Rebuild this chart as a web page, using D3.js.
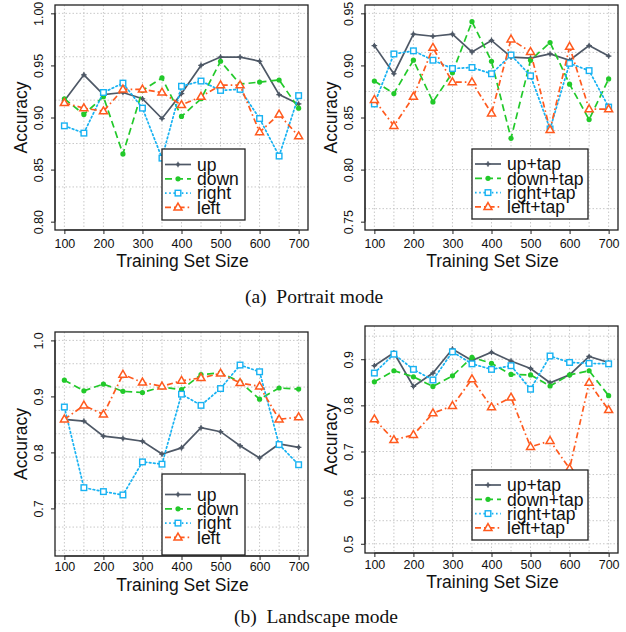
<!DOCTYPE html>
<meta charset="utf-8">
<style>
body { margin: 0; background: #fff; }
text { font-family: "Liberation Sans", Arial, sans-serif; fill: #111; }
.caption { font-family: "Liberation Serif", "Times New Roman", serif; font-size: 19.5px; white-space: pre; }
.grid line { stroke: #c8c8c8; stroke-width: 1; stroke-dasharray: 1.5,2; }
</style>
<body>
<script src="https://cdn.jsdelivr.net/npm/d3@7"></script>
<script>

var sizes = [100, 150, 200, 250, 300, 350, 400, 450, 500, 550, 600, 650, 700];

// (a) portrait mode
var portraitNames = ["up", "down", "right", "left"];
var portraitUp    = [0.916, 0.941, 0.922, 0.924, 0.918, 0.899, 0.923, 0.950, 0.958, 0.958, 0.954, 0.922, 0.913];
var portraitDown  = [0.918, 0.903, 0.920, 0.865, 0.926, 0.938, 0.901, 0.918, 0.954, 0.932, 0.934, 0.936, 0.909];
var portraitRight = [0.892, 0.885, 0.924, 0.933, 0.909, 0.861, 0.930, 0.935, 0.926, 0.927, 0.899, 0.863, 0.921];
var portraitLeft  = [0.914, 0.909, 0.906, 0.927, 0.927, 0.924, 0.912, 0.920, 0.931, 0.931, 0.886, 0.903, 0.882];

var portraitTapNames = ["up+tap", "down+tap", "right+tap", "left+tap"];
var portraitUpTap    = [0.919, 0.892, 0.930, 0.928, 0.930, 0.913, 0.924, 0.908, 0.907, 0.911, 0.905, 0.919, 0.909];
var portraitDownTap  = [0.885, 0.873, 0.905, 0.865, 0.893, 0.942, 0.904, 0.830, 0.905, 0.922, 0.882, 0.848, 0.887];
var portraitRightTap = [0.863, 0.911, 0.914, 0.905, 0.897, 0.898, 0.892, 0.910, 0.890, 0.839, 0.902, 0.895, 0.860];
var portraitLeftTap  = [0.867, 0.842, 0.870, 0.917, 0.884, 0.884, 0.854, 0.925, 0.913, 0.838, 0.918, 0.858, 0.858];

// (b) landscape mode
var landscapeUp    = [0.859, 0.856, 0.829, 0.825, 0.820, 0.797, 0.808, 0.844, 0.837, 0.812, 0.790, 0.815, 0.809];
var landscapeDown  = [0.929, 0.910, 0.922, 0.909, 0.907, 0.917, 0.912, 0.939, 0.942, 0.926, 0.895, 0.915, 0.913];
var landscapeRight = [0.881, 0.737, 0.730, 0.724, 0.783, 0.779, 0.904, 0.884, 0.914, 0.956, 0.944, 0.814, 0.778];
var landscapeLeft  = [0.859, 0.884, 0.868, 0.939, 0.925, 0.918, 0.928, 0.933, 0.941, 0.924, 0.918, 0.859, 0.863];

var landscapeUpTap    = [0.886, 0.914, 0.841, 0.870, 0.922, 0.897, 0.915, 0.896, 0.880, 0.849, 0.866, 0.906, 0.893];
var landscapeDownTap  = [0.851, 0.875, 0.862, 0.841, 0.864, 0.904, 0.891, 0.867, 0.866, 0.842, 0.866, 0.875, 0.821];
var landscapeRightTap = [0.870, 0.911, 0.878, 0.855, 0.916, 0.890, 0.878, 0.886, 0.835, 0.907, 0.893, 0.891, 0.890];
var landscapeLeftTap  = [0.770, 0.725, 0.736, 0.783, 0.799, 0.857, 0.796, 0.817, 0.710, 0.723, 0.663, 0.849, 0.790];

var xTicks = [100, 200, 300, 400, 500, 600, 700];
var yTicksA1 = [0.80, 0.85, 0.90, 0.95, 1.00];
var yTicksA2 = [0.75, 0.80, 0.85, 0.90, 0.95];
var yTicksB1 = [0.7, 0.8, 0.9, 1.0];
var yTicksB2 = [0.5, 0.6, 0.7, 0.8, 0.9];

var styles = [
  {color: "#4e5866", dash: null,          mark: "plus"},
  {color: "#22c92a", dash: "7,4",         mark: "dot"},
  {color: "#17b2f2", dash: "1.6,2.6",     mark: "square"},
  {color: "#ff5a1e", dash: "6,3,1.6,3",   mark: "triangle"}
];

var svg = d3.select("body").append("svg")
    .attr("width", 626)
    .attr("height", 632);

var panels = [
  {x0: 55, x1: 308, y0: 5, y1: 230, dom: [0.792, 1.008], ticks: yTicksA1, fmt: ".2f",
   grid: [1.0, 1 / 24], names: portraitNames, series: [portraitUp, portraitDown, portraitRight, portraitLeft],
   leg: [162, 149, 83, 71], tickY: 244, titleY: 267},
  {x0: 365, x1: 618, y0: 5, y1: 230, dom: [0.742, 0.958], ticks: yTicksA2, fmt: ".2f",
   grid: [0.95, 0.0375], names: portraitTapNames, series: [portraitUpTap, portraitDownTap, portraitRightTap, portraitLeftTap],
   leg: [472, 149, 116, 70], tickY: 244, titleY: 267},
  {x0: 55, x1: 308, y0: 332, y1: 556, dom: [0.615, 1.015], ticks: yTicksB1, fmt: ".1f",
   grid: [1.0, 1 / 24], names: portraitNames, series: [landscapeUp, landscapeDown, landscapeRight, landscapeLeft],
   leg: [162, 474, 83, 81], tickY: 567, titleY: 591},
  {x0: 365, x1: 618, y0: 326, y1: 553, dom: [0.48, 0.972], ticks: yTicksB2, fmt: ".1f",
   grid: [0.95, 0.05], names: portraitTapNames, series: [landscapeUpTap, landscapeDownTap, landscapeRightTap, landscapeLeftTap],
   leg: [472, 470, 116, 70], tickY: 565, titleY: 588}
];

panels.forEach(drawPanel);

svg.append("text").attr("class", "caption")
    .attr("x", 314).attr("y", 303).attr("text-anchor", "middle")
    .text("(a)  Portrait mode");
svg.append("text").attr("class", "caption")
    .attr("x", 316).attr("y", 623).attr("text-anchor", "middle")
    .text("(b)  Landscape mode");

function drawPanel(p) {
  var x = d3.scaleLinear().domain([76, 724]).range([p.x0, p.x1]);
  var y = d3.scaleLinear().domain(p.dom).range([p.y1, p.y0]);
  var g = svg.append("g");

  // grid
  var grid = g.append("g").attr("class", "grid");
  grid.selectAll(".v").data(sizes).enter().append("line")
      .attr("x1", x).attr("x2", x).attr("y1", p.y0).attr("y2", p.y1);
  var hv = [];
  for (var v = p.grid[0]; v > p.dom[0]; v -= p.grid[1]) hv.push(v);
  grid.selectAll(".h").data(hv).enter().append("line")
      .attr("x1", p.x0).attr("x2", p.x1).attr("y1", y).attr("y2", y);

  // axes
  var ax = g.append("g").attr("transform", "translate(0," + p.y1 + ")")
      .call(d3.axisBottom(x).tickValues(xTicks).tickSize(4).tickSizeOuter(0));
  ax.select(".domain").attr("d", "M" + x(100) + ",0H" + x(700));
  ax.selectAll("text").attr("y", p.tickY - p.y1).attr("dy", "0.35em")
      .style("font-size", "12.5px").style("font-family", "Liberation Sans, Arial, sans-serif");

  var ay = g.append("g").attr("transform", "translate(" + p.x0 + ",0)")
      .call(d3.axisLeft(y).tickValues(p.ticks).tickFormat(d3.format(p.fmt)).tickSize(4).tickSizeOuter(0));
  ay.select(".domain").attr("d", "M0," + y(p.ticks[0]) + "V" + y(p.ticks[p.ticks.length - 1]));
  ay.selectAll(".tick text")
      .attr("x", 0).attr("dy", null)
      .attr("transform", "translate(-12,0) rotate(-90)")
      .attr("text-anchor", "middle")
      .style("font-size", "12.5px").style("font-family", "Liberation Sans, Arial, sans-serif");
  g.selectAll(".tick line, .domain").attr("stroke", "#222");

  g.append("rect").attr("x", p.x0).attr("y", p.y0)
      .attr("width", p.x1 - p.x0).attr("height", p.y1 - p.y0)
      .attr("fill", "none").attr("stroke", "#222").attr("stroke-width", 1.3);

  g.append("text").attr("x", (p.x0 + p.x1) / 2 + 1).attr("y", p.titleY)
      .attr("text-anchor", "middle").style("font-size", "17.5px")
      .text("Training Set Size");
  g.append("text")
      .attr("transform", "translate(" + (p.x0 - 28) + "," + ((p.y0 + p.y1) / 2) + ") rotate(-90)")
      .attr("text-anchor", "middle").style("font-size", "17.5px")
      .text("Accuracy");

  // series
  var line = d3.line().x(function(d) { return x(d[0]); }).y(function(d) { return y(d[1]); });
  p.series.forEach(function(vals, i) {
    var s = styles[i];
    var pts = sizes.map(function(d, j) { return [d, vals[j]]; });
    g.append("path").datum(pts)
        .attr("d", line).attr("fill", "none")
        .attr("stroke", s.color).attr("stroke-width", 1.7)
        .attr("stroke-linecap", s.mark === "square" ? "round" : "butt")
        .attr("stroke-dasharray", s.dash);
    pts.forEach(function(d) { marker(g, s, x(d[0]), y(d[1])); });
  });

  // legend
  var L = p.leg;
  var lg = g.append("g");
  lg.append("rect").attr("x", L[0]).attr("y", L[1]).attr("width", L[2]).attr("height", L[3])
      .attr("fill", "#fff").attr("stroke", "#222").attr("stroke-width", 1.3);
  var step = 14.3, top = L[1] + 15 + (L[3] - 70) / 2;
  p.names.forEach(function(n, i) {
    var s = styles[i], yy = top + i * step;
    lg.append("line").attr("x1", L[0] + 3).attr("x2", L[0] + 29)
        .attr("y1", yy).attr("y2", yy)
        .attr("stroke", s.color).attr("stroke-width", 1.7)
        .attr("stroke-dasharray", s.dash);
    marker(lg, s, L[0] + 16, yy);
    lg.append("text").attr("x", L[0] + 35).attr("y", yy).attr("dy", "0.36em")
        .style("font-size", "17.5px").text(n);
  });
}

function marker(g, s, cx, cy) {
  if (s.mark === "plus") {
    g.append("circle").attr("cx", cx).attr("cy", cy).attr("r", 1.8).attr("fill", s.color);
    g.append("path").attr("d", "M" + (cx - 2.8) + "," + cy + "h5.6M" + cx + "," + (cy - 2.8) + "v5.6")
        .attr("stroke", s.color).attr("stroke-width", 1.2);
  } else if (s.mark === "dot") {
    g.append("circle").attr("cx", cx).attr("cy", cy).attr("r", 2.6).attr("fill", s.color);
  } else if (s.mark === "square") {
    g.append("rect").attr("x", cx - 2.8).attr("y", cy - 2.8).attr("width", 5.6).attr("height", 5.6)
        .attr("fill", "#fff").attr("stroke", s.color).attr("stroke-width", 1.4);
  } else {
    g.append("path").attr("d", "M" + cx + "," + (cy - 4.3) + "L" + (cx + 4) + "," + (cy + 2.6) + "L" + (cx - 4) + "," + (cy + 2.6) + "Z")
        .attr("fill", "#fff").attr("stroke", s.color).attr("stroke-width", 1.5);
  }
}

</script>
